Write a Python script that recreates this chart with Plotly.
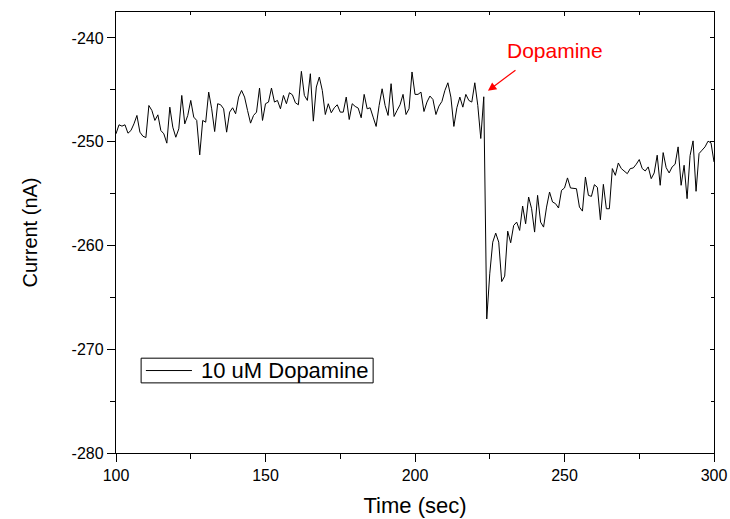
import plotly.graph_objects as go

# ---- data ----
time_start = 100
current_100_140 = [-249.24, -248.37, -248.50, -248.37, -249.18, -248.92, -248.28, -247.47, -249.08, -249.47,
                   -249.60, -246.51, -246.99, -247.95, -247.41, -248.92, -249.24, -250.14, -246.67, -248.60,
                   -249.57, -248.76, -245.54, -248.28, -247.47, -246.02, -247.63, -247.95, -251.27, -247.95,
                   -248.12, -245.22, -246.83, -249.02, -246.34, -246.44, -246.83, -249.08, -247.15, -246.73,
                   -247.31]
current_141_181 = [-245.70, -245.06, -245.70, -246.99, -248.21, -247.47, -247.15, -244.83, -247.95, -246.34,
                   -246.18, -244.83, -246.18, -246.02, -246.83, -245.54, -246.34, -245.28, -245.48, -246.25,
                   -246.44, -243.22, -245.54, -246.02, -243.45, -248.02, -244.73, -243.77, -245.06, -247.38,
                   -246.34, -247.21, -246.73, -246.44, -247.15, -247.15, -245.70, -247.86, -246.34, -246.60,
                   -246.76]
current_182_221 = [-247.69, -245.44, -246.83, -246.73, -247.63, -248.53, -246.51, -244.90, -246.51, -247.47,
                   -244.41, -247.57, -246.99, -246.44, -245.44, -247.38, -246.83, -243.28, -245.44, -245.44,
                   -245.22, -247.09, -246.18, -245.60, -245.93, -247.38, -246.57, -246.12, -245.06, -244.32,
                   -245.70, -248.53, -246.73, -245.70, -246.67, -245.44, -246.02, -246.18, -244.32, -246.50]
current_222_261 = [-249.69, -245.67, -267.08, -262.73, -259.68, -258.81, -259.68, -263.48, -262.96, -258.62,
                   -259.74, -258.07, -257.75, -258.55, -256.20, -257.91, -255.33, -256.46, -258.71, -255.17,
                   -257.75, -258.23, -256.30, -254.85, -255.81, -255.97, -256.39, -254.69, -254.46, -253.49,
                   -254.46, -254.53, -254.53, -256.30, -256.69, -253.40, -255.17, -255.27, -254.14, -254.40]
current_262_300 = [-257.52, -254.11, -256.46, -256.46, -252.59, -253.24, -252.05, -252.59, -252.85, -253.08,
                   -252.59, -252.53, -252.17, -251.72, -252.59, -252.82, -252.43, -253.56, -253.01, -251.30,
                   -254.20, -251.05, -252.50, -253.01, -252.43, -252.17, -250.50, -254.20, -252.27, -255.49,
                   -251.33, -249.92, -254.78, -251.14, -250.82, -250.50, -249.95, -250.11, -251.95]

current = current_100_140 + current_141_181 + current_182_221 + current_222_261 + current_262_300
time = [time_start + i for i in range(len(current))]

series_name = "10 uM Dopamine"
x_ticks = [100, 150, 200, 250, 300]
x_tick_labels = ["100", "150", "200", "250", "300"]
y_ticks = [-280, -270, -260, -250, -240]
y_tick_labels = ["-280", "-270", "-260", "-250", "-240"]
x_range = [100, 300]
y_range = [-280, -237.5]

# annotation (arrow head / tail / label in data units)
arrow_head = (224.4, -245.1)
arrow_tail = (234.1, -243.0)
label_pos = (246.8, -241.2)
label_text = "Dopamine"

# legend box geometry (paper fractions of the plot area)
LEG_X0, LEG_X1 = 0.042, 0.430
LEG_Y0, LEG_Y1 = 0.159, 0.215
LEG_LINE_X0, LEG_LINE_X1 = 0.050, 0.127
LEG_TEXT_X = 0.139

FONT = "Liberation Sans, Arial, sans-serif"

fig = go.Figure()
fig.add_trace(go.Scatter(x=time, y=current, mode="lines", name=series_name,
                         line=dict(color="black", width=1), showlegend=False))
# invisible trace to carry the mirrored (top/right) axes
fig.add_trace(go.Scatter(x=time, y=current, mode="lines", xaxis="x2", yaxis="y2",
                         line=dict(color="rgba(0,0,0,0)", width=0), showlegend=False,
                         hoverinfo="skip"))

axis_common = dict(showgrid=False, zeroline=False, linecolor="black", linewidth=1.3,
                   tickcolor="black", automargin=False,
                   tickfont=dict(family=FONT, size=16, color="black"))

fig.update_layout(
    width=730, height=519,
    margin=dict(l=116, r=16, t=12, b=66),
    paper_bgcolor="white", plot_bgcolor="white",
    font=dict(family=FONT, color="black"),
    xaxis=dict(range=x_range, tickvals=x_ticks, ticktext=x_tick_labels, ticks="outside",
               ticklen=8, tickwidth=1.3,
               minor=dict(ticks="outside", ticklen=5, dtick=25, tickcolor="black", tickwidth=1.3),
               title=dict(text="Time (sec)", font=dict(family=FONT, size=22), standoff=14),
               **axis_common),
    yaxis=dict(range=y_range, tickvals=y_ticks, ticktext=y_tick_labels, ticks="outside",
               ticklen=8, tickwidth=1.3,
               minor=dict(ticks="outside", ticklen=5, dtick=5, tickcolor="black", tickwidth=1.3),
               title=dict(text="Current (nA)", font=dict(family=FONT, size=20), standoff=28),
               **axis_common),
    xaxis2=dict(range=x_range, overlaying="x", side="top", anchor="y", tickvals=x_ticks,
                ticks="inside", ticklen=4, tickwidth=1.3, showticklabels=False,
                minor=dict(ticks="inside", ticklen=3, dtick=25, tickcolor="black", tickwidth=1.3),
                **axis_common),
    yaxis2=dict(range=y_range, overlaying="y", side="right", anchor="x", tickvals=y_ticks,
                ticks="inside", ticklen=4, tickwidth=1.3, showticklabels=False,
                minor=dict(ticks="inside", ticklen=3, dtick=5, tickcolor="black", tickwidth=1.3),
                **axis_common),
    showlegend=False,
)

# legend (box, line sample, label)
fig.add_shape(type="rect", xref="x domain", yref="y domain",
              x0=LEG_X0, x1=LEG_X1, y0=LEG_Y0, y1=LEG_Y1,
              line=dict(color="black", width=1), fillcolor="white", layer="above")
leg_mid = (LEG_Y0 + LEG_Y1) / 2
fig.add_shape(type="line", xref="x domain", yref="y domain",
              x0=LEG_LINE_X0, x1=LEG_LINE_X1, y0=leg_mid, y1=leg_mid,
              line=dict(color="black", width=1), layer="above")
fig.add_annotation(x=LEG_TEXT_X, y=leg_mid, xref="x domain", yref="y domain",
                   text=series_name, showarrow=False, xanchor="left", yanchor="middle",
                   font=dict(family=FONT, size=22, color="black"))

fig.add_annotation(x=arrow_head[0], y=arrow_head[1], ax=arrow_tail[0], ay=arrow_tail[1],
                   xref="x", yref="y", axref="x", ayref="y", text="",
                   showarrow=True, arrowhead=2, arrowsize=1.4, arrowwidth=1.2, arrowcolor="red")
fig.add_annotation(x=label_pos[0], y=label_pos[1], xref="x", yref="y", text=label_text,
                   showarrow=False, font=dict(family=FONT, size=21, color="red"))

fig.write_html("out.html")
